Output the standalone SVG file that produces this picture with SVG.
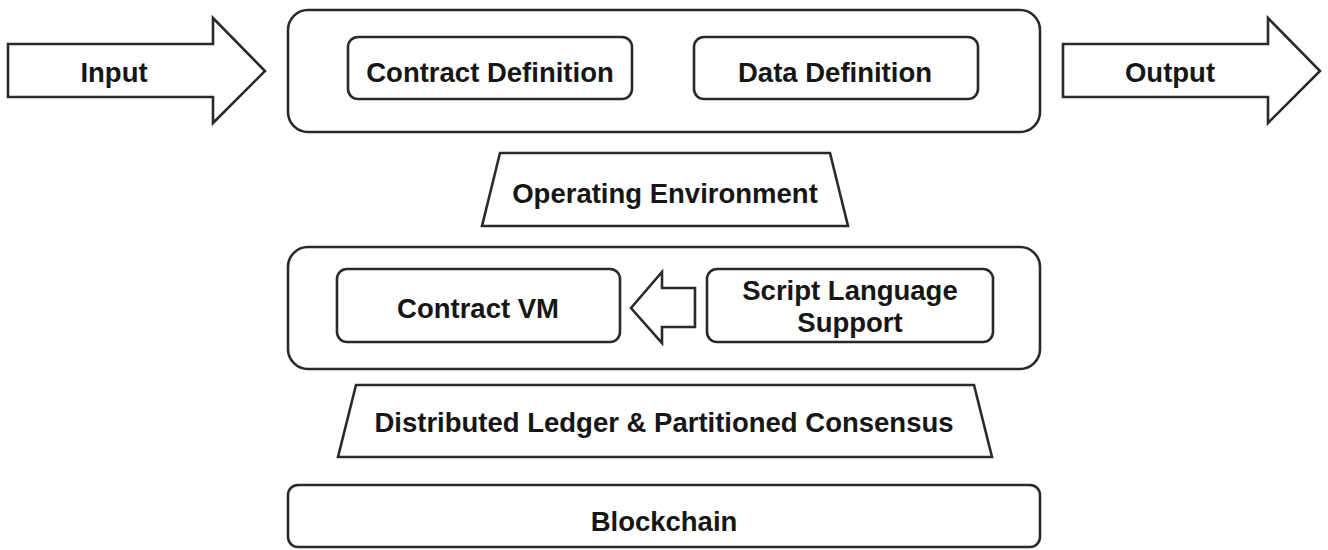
<svg xmlns="http://www.w3.org/2000/svg" width="1328" height="550" viewBox="0 0 1328 550">
  <style>
    .shape { fill: #ffffff; stroke: #2a2a2a; stroke-width: 2.6; stroke-linejoin: miter; }
    .label { font-family: "Liberation Sans", Arial, sans-serif; font-weight: bold; font-size: 27.5px; fill: #161616; text-anchor: middle; }
  </style>
  <rect x="0" y="0" width="1328" height="550" fill="#ffffff"/>

  <!-- Input / Output block arrows -->
  <g id="input">
    <polygon class="shape" points="8,44 213,44 213,18 265,71 213,123 213,97 8,97"/>
    <text class="label" x="114" y="82">Input</text>
  </g>
  <g id="output">
    <polygon class="shape" points="1063,44 1268,44 1268,18 1320,71 1268,123 1268,97 1063,97"/>
    <text class="label" x="1170" y="82">Output</text>
  </g>

  <!-- Contract layer -->
  <g id="contract-layer">
    <rect class="shape" x="288" y="10" width="752" height="122" rx="20" ry="20"/>
  </g>
  <g id="contract-definition">
    <rect class="shape" x="348" y="37" width="284" height="62" rx="10" ry="10"/>
    <text class="label" x="490" y="82">Contract Definition</text>
  </g>
  <g id="data-definition">
    <rect class="shape" x="694" y="37" width="284" height="62" rx="10" ry="10"/>
    <text class="label" x="835" y="82">Data Definition</text>
  </g>

  <!-- Operating environment -->
  <g id="operating-environment">
    <polygon class="shape" points="500,153 830,153 848,226 482,226"/>
    <text class="label" x="665" y="203">Operating Environment</text>
  </g>

  <!-- Virtual machine layer -->
  <g id="vm-layer">
    <rect class="shape" x="288" y="247" width="752" height="122" rx="20" ry="20"/>
  </g>
  <g id="contract-vm">
    <rect class="shape" x="337" y="269" width="283" height="73" rx="10" ry="10"/>
    <text class="label" x="478" y="318">Contract VM</text>
  </g>
  <g id="script-language-support">
    <rect class="shape" x="707" y="269" width="286" height="73" rx="10" ry="10"/>
    <text class="label" x="850" y="300">Script Language</text>
    <text class="label" x="850" y="332">Support</text>
  </g>

  <!-- Connectors -->
  <g id="connectors">
    <polygon class="shape" points="631,308 662,272 662,288 695,288 695,327 662,327 662,343"/>
  </g>

  <!-- Ledger and consensus -->
  <g id="ledger-consensus">
    <polygon class="shape" points="356,385 974,385 992,457 338,457"/>
    <text class="label" x="664" y="432">Distributed Ledger &amp; Partitioned Consensus</text>
  </g>

  <!-- Blockchain base -->
  <g id="blockchain">
    <rect class="shape" x="288" y="485" width="752" height="62" rx="10" ry="10"/>
    <text class="label" x="664" y="531">Blockchain</text>
  </g>
</svg>
